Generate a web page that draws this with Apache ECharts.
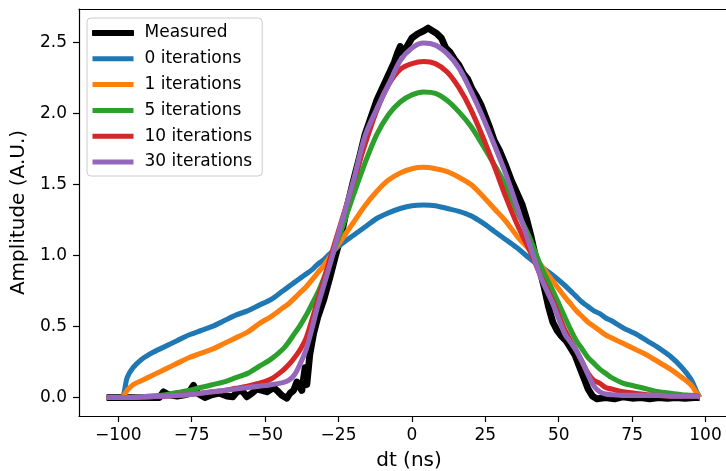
<!DOCTYPE html>
<html><head><meta charset="utf-8">
<script src="https://cdn.jsdelivr.net/npm/echarts@6/dist/echarts.min.js"></script>
<style>html,body{margin:0;padding:0;background:#fff;overflow:hidden}#c{width:726px;height:471px}</style>
</head><body><div id="c"></div>
<script>
const dtGrid = [-104,-99,-97,-95,-92,-88,-84,-80,-76,-72,-68,-64,-60,-56,-52,-48,-44,-42,-40,-38,-36,-34,-32,-30,-28,-24,-20,-16,-12,-8,-4,0,4,8,12,16,20,24,28,32,36,40,44,48,52,54,56,58,60,62,64,66,68,72,76,80,84,88,92,95,97,98];
const iter0 = [0,0,0.14,0.21,0.27,0.32,0.36,0.40,0.44,0.47,0.50,0.54,0.58,0.61,0.65,0.69,0.75,0.78,0.81,0.84,0.87,0.90,0.94,0.97,1.01,1.08,1.14,1.20,1.26,1.30,1.33,1.35,1.355,1.35,1.33,1.31,1.28,1.23,1.17,1.11,1.05,0.98,0.92,0.86,0.79,0.75,0.71,0.67,0.64,0.61,0.59,0.56,0.54,0.49,0.45,0.40,0.35,0.29,0.21,0.13,0.04,0.0];
const iter1 = [0,0,0.05,0.09,0.12,0.16,0.20,0.24,0.28,0.31,0.34,0.38,0.42,0.46,0.52,0.57,0.63,0.66,0.70,0.74,0.78,0.83,0.88,0.93,0.99,1.11,1.23,1.35,1.45,1.53,1.58,1.61,1.62,1.61,1.59,1.55,1.50,1.42,1.33,1.24,1.13,1.04,0.93,0.82,0.71,0.66,0.61,0.57,0.53,0.50,0.47,0.44,0.42,0.38,0.34,0.30,0.25,0.20,0.14,0.09,0.03,0.0];
const iter5 = [0,0,0,0,0.005,0.01,0.02,0.035,0.05,0.07,0.09,0.11,0.14,0.17,0.22,0.27,0.34,0.39,0.45,0.51,0.58,0.66,0.74,0.84,0.95,1.18,1.42,1.65,1.85,1.99,2.08,2.13,2.15,2.14,2.09,2.01,1.91,1.78,1.64,1.49,1.30,1.13,0.92,0.75,0.57,0.48,0.40,0.34,0.28,0.24,0.20,0.17,0.14,0.10,0.08,0.06,0.04,0.03,0.02,0.015,0.01,0.005];
const iter10 = [0,0,0,0,0,0.005,0.01,0.015,0.02,0.03,0.04,0.05,0.065,0.08,0.10,0.13,0.19,0.23,0.28,0.34,0.42,0.55,0.69,0.83,0.97,1.24,1.51,1.78,2.02,2.20,2.31,2.35,2.365,2.35,2.29,2.18,2.03,1.84,1.63,1.41,1.21,1.04,0.85,0.68,0.48,0.40,0.33,0.25,0.17,0.12,0.10,0.07,0.06,0.04,0.03,0.02,0.015,0.01,0.01,0.01,0.01,0.005];
const iter30 = [0,0,0,0,0.005,0.01,0.01,0.015,0.02,0.03,0.04,0.05,0.06,0.07,0.08,0.09,0.105,0.12,0.16,0.24,0.34,0.49,0.65,0.79,0.93,1.23,1.52,1.84,2.03,2.20,2.37,2.46,2.495,2.48,2.42,2.32,2.16,1.98,1.78,1.57,1.33,1.08,0.84,0.66,0.45,0.39,0.33,0.25,0.16,0.08,0.04,0.025,0.02,0.015,0.015,0.015,0.015,0.01,0.01,0.01,0.01,0.005];
const measuredDt = [-104,-86,-84.6,-83,-80,-77,-75.5,-74.4,-73,-70.5,-68,-65.5,-63,-61,-59.6,-57.9,-56.2,-54.5,-52.8,-51,-49.4,-47.1,-45.5,-44.3,-42.6,-41.5,-40.3,-39.2,-38.6,-37.5,-36.4,-35.8,-34.8,-33.5,-32,-30,-28,-26,-24,-22,-20,-18,-16,-14,-12,-10,-8,-6,-5,-4,-3,-2,0,2,4,5.5,7,8.5,10,11.5,13,14.5,16,17.5,19,20.5,22,23.5,25,26.5,28,30,32,34,36,37.5,39,40.5,42,43.5,45,46.5,48,49.5,51,52.5,54,55.5,57,58.5,60,61.5,63,66,69,72,75,78,81,84,87,90,93,96,98];
const measuredAmp = [0,0,0.04,0.02,0.01,0.02,0.05,0.085,0.03,0.0,0.02,0.03,0.01,0.005,0.04,0.05,0.005,0.03,0.06,0.05,0.04,0.07,0.04,0.015,-0.005,0.03,0.05,0.11,0.1,0.05,0.21,0.09,0.3,0.45,0.57,0.69,0.84,1.0,1.15,1.35,1.52,1.68,1.85,1.97,2.09,2.18,2.27,2.36,2.42,2.47,2.42,2.46,2.53,2.56,2.58,2.6,2.58,2.56,2.53,2.46,2.43,2.38,2.34,2.28,2.24,2.17,2.12,2.06,1.98,1.9,1.81,1.73,1.63,1.52,1.43,1.36,1.26,1.14,1.0,0.9,0.78,0.64,0.53,0.47,0.43,0.4,0.35,0.3,0.22,0.14,0.06,0.01,-0.01,0.0,-0.01,0.005,-0.005,0.0,-0.01,0.0,-0.005,0.0,-0.005,0.0,0.0];
const seriesNames = ['Measured','0 iterations','1 iterations','5 iterations','10 iterations','30 iterations'];
const xTicks = [-100,-75,-50,-25,0,25,50,75,100];
const yTicks = [0,0.5,1,1.5,2,2.5];

const colors = ['#000000','#1f77b4','#ff7f0e','#2ca02c','#d62728','#9467bd'];
const FONT = 'DejaVu Sans';
function zip(xs, ys){ return xs.map((x,i)=>[x, ys[i]]); }
const curves = [iter0, iter1, iter5, iter10, iter30];
const X_MIN = -113.4, X_MAX = 111.4;

const series = [{
  name: seriesNames[0], type:'line', data: zip(measuredDt, measuredAmp),
  showSymbol:false, symbol:'none', smooth:false,
  lineStyle:{color:colors[0], width:6.8, join:'round', cap:'butt'},
  itemStyle:{color:colors[0]}, emphasis:{disabled:true}
}].concat(curves.map((c,i)=>({
  name: seriesNames[i+1], type:'line', data: zip(dtGrid, c),
  showSymbol:false, symbol:'none', smooth:0.3,
  lineStyle:{color:colors[i+1], width:5.1, join:'round', cap:'butt'},
  itemStyle:{color:colors[i+1]}, emphasis:{disabled:true}
})));

const chart = echarts.init(document.getElementById('c'), null, {renderer:'canvas'});
chart.setOption({
  animation:false,
  backgroundColor:'#ffffff',
  textStyle:{fontFamily:FONT},
  grid:{left:79, top:9, width:660, height:407, show:false, containLabel:false, outerBoundsMode:'none'},
  legend:{
    orient:'vertical', left:87, top:18,
    padding:[5,10,4,5], itemGap:5.8, itemWidth:41, itemHeight:5,
    backgroundColor:'rgba(255,255,255,0.8)', borderColor:'#cccccc', borderWidth:1, borderRadius:4,
    textStyle:{fontFamily:FONT, fontSize:17, color:'#000', lineHeight:20, padding:[0,0,0,6]},
    itemStyle:{borderWidth:0},
    selectedMode:false,
    data: seriesNames.map((n,i)=> i===0
      ? {name:n, icon:'rect', itemStyle:{color:'#000', borderColor:'#000', borderWidth:1}}
      : {name:n, icon:'rect', itemStyle:{color:colors[i], borderWidth:0}})
  },
  xAxis:[{
    type:'value', min:X_MIN, max:X_MAX, position:'bottom',
    name:'dt (ns)', nameLocation:'middle', nameGap:35,
    nameTextStyle:{fontFamily:FONT, fontSize:20, color:'#000'},
    axisLine:{show:true, onZero:false, lineStyle:{color:'#000', width:1.2}},
    axisTick:{show:true, length:6, inside:false, customValues:xTicks, lineStyle:{color:'#000', width:1.2}},
    axisLabel:{show:true, customValues:xTicks, margin:11, fontFamily:FONT, fontSize:17, color:'#000',
      formatter:v=> (v<0?'\u2212':'') + Math.abs(Math.round(v))},
    splitLine:{show:false}
  },{
    type:'value', min:X_MIN, max:X_MAX, position:'top',
    axisLine:{show:true, onZero:false, lineStyle:{color:'#000', width:1.2}},
    axisTick:{show:false}, axisLabel:{show:false}, splitLine:{show:false}
  }],
  yAxis:{
    type:'value', min:-0.130, max:2.734,
    name:'Amplitude (A.U.)', nameLocation:'middle', nameGap:46,
    nameTextStyle:{fontFamily:FONT, fontSize:20, color:'#000'},
    axisLine:{show:true, onZero:false, lineStyle:{color:'#000', width:1.2}},
    axisTick:{show:true, length:6, inside:false, customValues:yTicks, lineStyle:{color:'#000', width:1.2}},
    axisLabel:{show:true, customValues:yTicks, margin:12, fontFamily:FONT, fontSize:17, color:'#000',
      formatter:v=> v.toFixed(1)},
    splitLine:{show:false}
  },
  series: series
});
</script>
</body></html>
